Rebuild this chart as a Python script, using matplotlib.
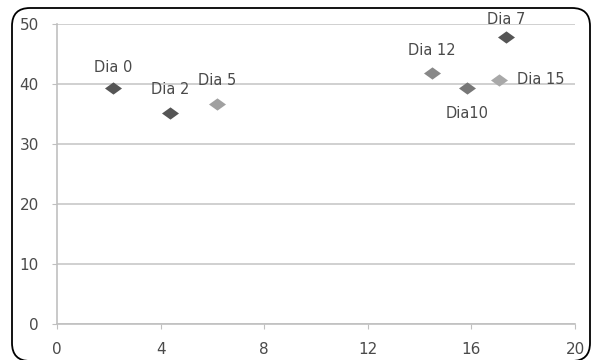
import matplotlib
matplotlib.use("Agg")
import matplotlib.pyplot as plt
from matplotlib.patches import FancyBboxPatch

# samples: (day label, x, y, shade)
labels = ["Dia 0", "Dia 2", "Dia 5", "Dia 12", "Dia10", "Dia 7", "Dia 15"]
xs = [2.16, 4.36, 6.18, 14.48, 15.83, 17.34, 17.07]
ys = [39.3, 35.2, 36.7, 41.8, 39.3, 47.8, 40.7]
shades = ["#555555", "#555555", "#a0a0a0", "#888888", "#777777", "#555555", "#a8a8a8"]
# label offsets in points
offsets = [(0, 15), (0, 17), (0, 17), (0, 16), (0, -18), (0, 13), (13, 0)]
aligns = ["center", "center", "center", "center", "center", "center", "left"]

xticks = [0, 4, 8, 12, 16, 20]
yticks = [0, 10, 20, 30, 40, 50]

plt.rcParams["font.family"] = ["DejaVu Sans"]

# slightly flattened diamond
diamond = [(-1, 0), (0, 0.72), (1, 0), (0, -0.72), (-1, 0)]

fig = plt.figure(figsize=(5.92, 3.6), dpi=100)
ax = fig.add_axes([0.0963, 0.1, 0.875, 0.8333])

for x, y, c, lab, off, ha in zip(xs, ys, shades, labels, offsets, aligns):
    ax.scatter(x, y, marker=diamond, s=150, color=c, zorder=3, linewidths=0)
    ax.annotate(lab, (x, y), xytext=off, textcoords="offset points",
                ha=ha, va="center", fontsize=10.5, color="#4a4a4a")

ax.set_xlim(0, 20)
ax.set_ylim(0, 50)
ax.set_xticks(xticks)
ax.set_yticks(yticks)
ax.grid(axis="y", color="#c8c8c8", linewidth=1.2)
ax.set_axisbelow(True)
for side in ["top", "right"]:
    ax.spines[side].set_visible(False)
for side in ["left", "bottom"]:
    ax.spines[side].set_color("#c0c0c0")
    ax.spines[side].set_linewidth(1.2)
ax.tick_params(axis="x", direction="out", length=3.5, color="#c0c0c0",
               labelsize=11, labelcolor="#4a4a4a", pad=9.5)
ax.tick_params(axis="y", direction="out", length=3.5, color="#c0c0c0",
               labelsize=11, labelcolor="#4a4a4a", pad=9.5)

# rounded outer frame
frame = FancyBboxPatch((12, -1), 578, 353, boxstyle="round,pad=0,rounding_size=18",
                       transform=None, facecolor="none", edgecolor="black",
                       linewidth=1.3)
fig.patches.append(frame)

fig.savefig("out.png", dpi=100)
